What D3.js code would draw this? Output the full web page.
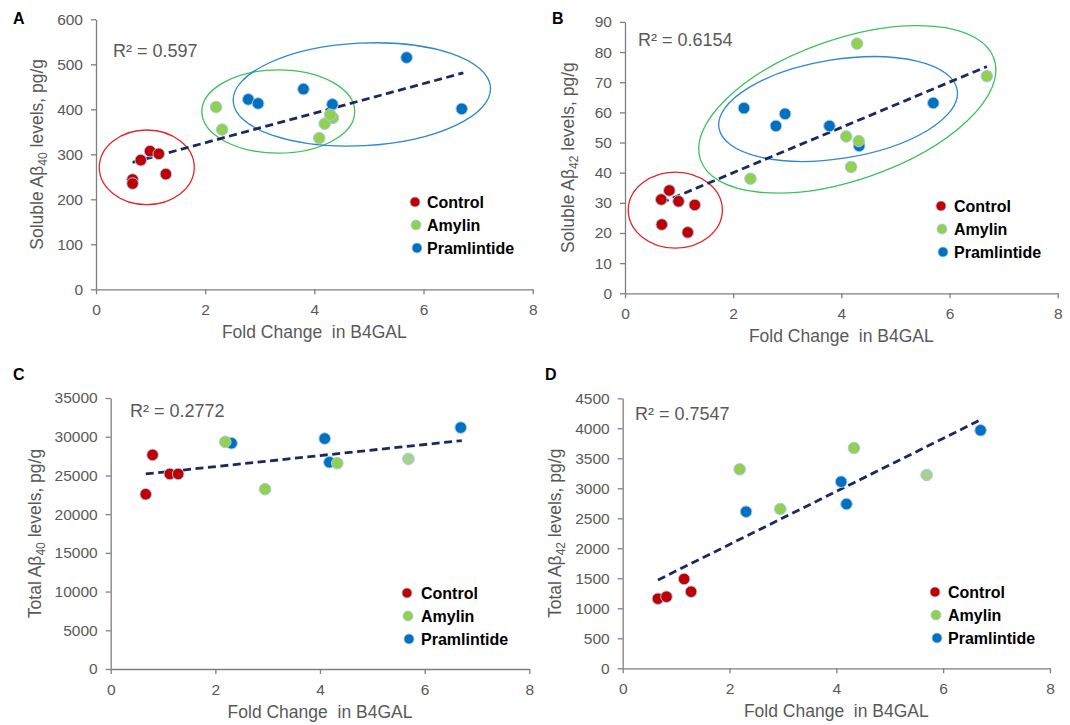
<!DOCTYPE html>
<html>
<head>
<meta charset="utf-8">
<script src="https://cdn.jsdelivr.net/npm/d3@7"></script>
<style>
  body { margin: 0; background: #fff; }
  text { font-family: "Liberation Sans", Arial, sans-serif; }
</style>
</head>
<body>
<div id="chart"></div>
<script>
// groups and shared ticks
const groups = ["Control", "Amylin", "Pramlintide"];
const xTicks = [0, 2, 4, 6, 8];

// A: soluble Abeta40
const solAb40Control = [[0.67,244],[0.67,235],[0.82,287],[0.99,307],[1.15,301],[1.28,256]];
const solAb40Amylin = [[2.20,405],[2.31,355],[4.09,336],[4.19,368],[4.34,381],[4.29,388]];
const solAb40Pram = [[2.79,422],[2.97,413],[3.80,445],[4.33,411],[5.69,515],[6.70,401]];
const solAb40Trend = [[0.67,282],[6.73,481]];
const solAb40Ticks = [0,100,200,300,400,500,600];

// B: soluble Abeta42
const solAb42Control = [[0.82,34.1],[0.67,31.1],[0.99,30.5],[1.29,29.3],[0.68,22.8],[1.16,20.2]];
const solAb42Amylin = [[2.32,38],[4.29,82.8],[4.09,52],[4.18,41.9],[6.69,72]];
const solAb42Pram = [[2.20,61.4],[2.79,55.5],[2.96,59.5],[3.78,55.5],[4.33,48.9],[5.70,63.1]];
const solAb42AmylinTop = [[4.32,50.5]];
const solAb42Trend = [[0.67,30],[6.69,75.2]];
const solAb42Ticks = [0,10,20,30,40,50,60,70,80,90];

// C: total Abeta40
const totAb40Control = [[0.67,22570],[0.80,27650],[1.13,25190],[1.29,25190]];
const totAb40Amylin = [[2.19,29330],[2.95,23220],[4.33,26580],[5.69,27130]];
const totAb40Pram = [[2.31,29160],[4.09,29760],[4.18,26700],[6.69,31180]];
const totAb40Trend = [[0.67,25190],[6.71,29500]];
const totAb40Ticks = [0,5000,10000,15000,20000,25000,30000,35000];

// D: total Abeta42
const totAb42Control = [[0.66,1160],[0.82,1193],[1.15,1488],[1.28,1277]];
const totAb42Amylin = [[2.19,3317],[2.95,2655],[4.33,3672],[5.69,3222]];
const totAb42Pram = [[2.31,2610],[4.09,3110],[4.19,2738],[6.70,3967]];
const totAb42Trend = [[0.66,1472],[6.72,4150]];
const totAb42Ticks = [0,500,1000,1500,2000,2500,3000,3500,4000,4500];

// group ellipses: [cx, cy, rx (x units), ry (y units), rotation deg]
const solAb40Rings = [[0.93,271,0.87,83,0],[3.34,395,1.40,92.6,0],[4.87,433,2.36,114,-3]];
const solAb42Rings = [[0.93,27.6,0.87,12.6,0],[4.11,61,2.87,23.4,-19],[3.94,61.1,2.23,16.4,-9]];

const colors = {Control: "#C00000", Amylin: "#92D050", Pramlintide: "#0070C0"};
const ringColors = ["#E0262A", "#3CC25A", "#2F88CF"];
const gray = "#595959";

const panels = [
  {letter: "A", pos: [13, 24], ctrl: solAb40Control, amy: solAb40Amylin, pram: solAb40Pram, amyTop: [],
   trend: solAb40Trend, yTicks: solAb40Ticks, xr: [96, 532.7], yr: [289.3, 19.3], rings: solAb40Rings,
   r2: "R² = 0.597", r2Pos: [113, 57], legend: [415, 202, 427], yTitleX: 37, ylab: ["Soluble Aβ", "40"]},
  {letter: "B", pos: [552, 24], ctrl: solAb42Control, amy: solAb42Amylin, pram: solAb42Pram, amyTop: solAb42AmylinTop,
   trend: solAb42Trend, yTicks: solAb42Ticks, xr: [625, 1057.7], yr: [293.3, 21.9], rings: solAb42Rings,
   r2: "R² = 0.6154", r2Pos: [638, 46], legend: [941, 206, 954], yTitleX: 568, ylab: ["Soluble Aβ", "42"]},
  {letter: "C", pos: [13, 380], ctrl: totAb40Control, amy: totAb40Amylin, pram: totAb40Pram, amyTop: [],
   trend: totAb40Trend, yTicks: totAb40Ticks, xr: [110.7, 529.3], yr: [669, 398], rings: [],
   r2: "R² = 0.2772", r2Pos: [130, 417], legend: [407, 593, 421], yTitleX: 35, ylab: ["Total Aβ", "40"], fade: 3},
  {letter: "D", pos: [545, 380], ctrl: totAb42Control, amy: totAb42Amylin, pram: totAb42Pram, amyTop: [],
   trend: totAb42Trend, yTicks: totAb42Ticks, xr: [622.7, 1050], yr: [668.3, 398.3], rings: [],
   r2: "R² = 0.7547", r2Pos: [635, 420], legend: [935, 592, 948], yTitleX: 555, ylab: ["Total Aβ", "42"], fade: 3}
];

const svg = d3.select("#chart").append("svg")
  .attr("width", 1070)
  .attr("height", 725);

panels.forEach(p => {
  const x = d3.scaleLinear().domain([0, 8]).range(p.xr);
  const y = d3.scaleLinear().domain([0, d3.max(p.yTicks)]).range(p.yr);
  const g = svg.append("g");

  // axes
  const ax = g.append("g")
    .attr("transform", `translate(0,${p.yr[0]})`)
    .call(d3.axisBottom(x).tickValues(xTicks).tickSize(5).tickSizeOuter(0).tickPadding(10));
  const ay = g.append("g")
    .attr("transform", `translate(${p.xr[0]},0)`)
    .call(d3.axisLeft(y).tickValues(p.yTicks).tickSize(5).tickSizeOuter(0).tickPadding(8).tickFormat(d3.format("d")));
  [ax, ay].forEach(a => {
    a.select(".domain").attr("stroke", "#7f7f7f").attr("stroke-width", 1.3);
    a.selectAll(".tick line").attr("stroke", "#7f7f7f").attr("stroke-width", 1.3);
    a.selectAll(".tick text").attr("fill", gray).style("font-size", "15.5px")
      .style("font-family", "'Liberation Sans', Arial, sans-serif");
  });

  // axis titles
  g.append("text")
    .attr("x", (p.xr[0] + p.xr[1]) / 2)
    .attr("y", p.yr[0] + 49)
    .attr("text-anchor", "middle")
    .attr("fill", gray)
    .style("font-size", "17.5px")
    .style("white-space", "pre")
    .text("Fold Change  in B4GAL");

  const yt = g.append("text")
    .attr("transform", `translate(${p.yTitleX + 6},${(p.yr[0] + p.yr[1]) / 2}) rotate(-90)`)
    .attr("text-anchor", "middle")
    .attr("fill", gray)
    .style("font-size", "17.5px");
  yt.append("tspan").text(p.ylab[0]);
  yt.append("tspan").attr("dy", 4).style("font-size", "12px").text(p.ylab[1]);
  yt.append("tspan").attr("dy", -4).text(" levels, pg/g");

  // panel letter
  g.append("text")
    .attr("x", p.pos[0]).attr("y", p.pos[1])
    .style("font-size", "16px").style("font-weight", "bold")
    .text(p.letter);

  // group ellipses
  g.selectAll("ellipse").data(p.rings).join("ellipse")
    .attr("transform", d => `translate(${x(d[0])},${y(d[1])}) rotate(${d[4]})`)
    .attr("rx", d => x(d[2]) - x(0))
    .attr("ry", d => y(0) - y(d[3]))
    .attr("fill", "none")
    .attr("stroke", (d, i) => ringColors[i])
    .attr("stroke-width", 1.3);

  // trend line
  g.append("path")
    .datum(p.trend)
    .attr("d", d3.line().x(d => x(d[0])).y(d => y(d[1])))
    .attr("fill", "none")
    .attr("stroke", "#1B2A5E")
    .attr("stroke-width", 2.8)
    .attr("stroke-dasharray", "8,4.5");

  // points
  const series = [
    {name: "Control", pts: p.ctrl},
    {name: "Pramlintide", pts: p.pram},
    {name: "Amylin", pts: p.amy},
    {name: "Amylin", pts: p.amyTop}
  ];
  series.forEach(s => {
    g.append("g").selectAll("circle").data(s.pts).join("circle")
      .attr("cx", d => x(d[0]))
      .attr("cy", d => y(d[1]))
      .attr("r", 5.8)
      .attr("fill", (d, i) => (s.name === "Amylin" && p.fade === i && s.pts === p.amy) ? "#A9D18E" : colors[s.name])
      .attr("stroke", "#A9C8E8")
      .attr("stroke-width", 1);
  });

  // R squared
  g.append("text")
    .attr("x", p.r2Pos[0]).attr("y", p.r2Pos[1])
    .attr("fill", gray)
    .style("font-size", "18px")
    .text(p.r2);

  // legend
  const lg = g.append("g").attr("transform", `translate(${p.legend[0]},${p.legend[1]})`);
  groups.forEach((name, i) => {
    lg.append("circle")
      .attr("cx", i).attr("cy", i * 23)
      .attr("r", 5)
      .attr("fill", colors[name])
      .attr("stroke", "#A9C8E8")
      .attr("stroke-width", 0.8);
    lg.append("text")
      .attr("x", p.legend[2] - p.legend[0]).attr("y", i * 23)
      .attr("dy", "0.35em")
      .style("font-size", "16px").style("font-weight", "bold")
      .text(name);
  });
});
</script>
</body>
</html>
